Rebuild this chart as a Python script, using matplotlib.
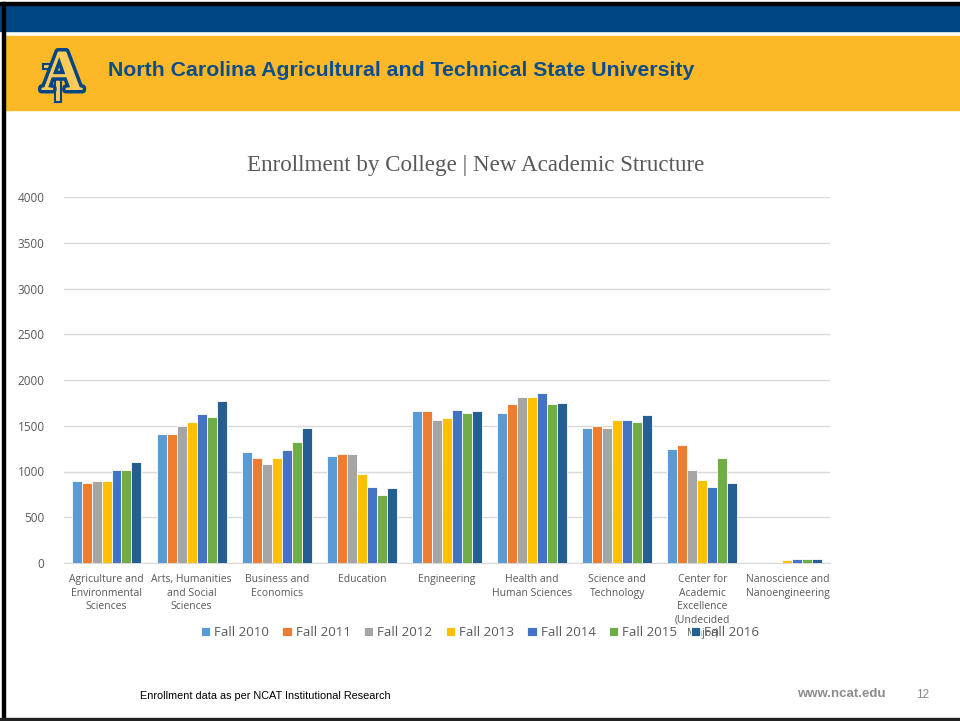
import matplotlib.pyplot as plt
import matplotlib.patheffects as pe
from matplotlib.patches import Rectangle
import numpy as np

# data
colleges = ["Agriculture and\nEnvironmental\nSciences",
            "Arts, Humanities\nand Social\nSciences",
            "Business and\nEconomics",
            "Education",
            "Engineering",
            "Health and\nHuman Sciences",
            "Science and\nTechnology",
            "Center for\nAcademic\nExcellence\n(Undecided\nMajor)",
            "Nanoscience and\nNanoengineering"]
terms = ["Fall 2010", "Fall 2011", "Fall 2012", "Fall 2013",
         "Fall 2014", "Fall 2015", "Fall 2016"]
fall2010 = [894, 1407, 1216, 1172, 1656, 1641, 1480, 1245, 0]
fall2011 = [879, 1407, 1143, 1187, 1656, 1733, 1494, 1289, 11]
fall2012 = [894, 1498, 1084, 1187, 1568, 1817, 1480, 1011, 7]
fall2013 = [894, 1538, 1143, 978, 1582, 1817, 1568, 908, 29]
fall2014 = [1011, 1626, 1231, 835, 1670, 1861, 1568, 835, 44]
fall2015 = [1011, 1597, 1319, 747, 1641, 1733, 1538, 1143, 44]
fall2016 = [1099, 1773, 1480, 821, 1656, 1747, 1615, 879, 44]
series = [fall2010, fall2011, fall2012, fall2013, fall2014, fall2015, fall2016]
colors = ["#5B9BD5", "#ED7D31", "#A5A5A5", "#FFC000", "#4472C4", "#70AD47", "#255E91"]

plt.rcParams['font.family'] = ['Open Sans', 'DejaVu Sans']

fig = plt.figure(figsize=(9.6, 7.21), dpi=100)

# slide background (pixel coordinates)
bg = fig.add_axes([0, 0, 1, 1], zorder=-1)
bg.set_xlim(0, 960)
bg.set_ylim(721, 0)
bg.axis('off')
bg.add_patch(Rectangle((0, 0), 960, 721, color='white'))
bg.add_patch(Rectangle((0, 3), 960, 28, color='#004684'))
bg.add_patch(Rectangle((0, 2), 960, 3, color='black'))
bg.add_patch(Rectangle((5, 36), 955, 74, color='#FDB827'))
bg.add_patch(Rectangle((2, 2), 3, 719, color='black'))
bg.add_patch(Rectangle((0, 718), 960, 3, color='#222222'))

# logo: big A with a T drawn through it
logo_fx = [pe.withStroke(linewidth=5, foreground='#004684')]
bg.text(62, 76, "A", fontsize=42, fontweight='bold', color='#FDCB5A',
        family='Liberation Serif', ha='center', va='center', path_effects=logo_fx)
bg.add_patch(Rectangle((43, 64), 30, 5, facecolor='#FDCB5A', edgecolor='#004684', lw=1.5))
bg.add_patch(Rectangle((55, 64), 6, 38, facecolor='#FDCB5A', edgecolor='#004684', lw=1.5))

bg.text(108, 70, "North Carolina Agricultural and Technical State University",
        fontsize=15.3, fontweight='bold', color='#0A4D8C', family='Liberation Sans',
        ha='left', va='center')

bg.text(476, 166, "Enrollment by College | New Academic Structure",
        fontsize=16.6, color='#595959', family='Liberation Serif',
        ha='center', va='center')

bg.text(140, 696, "Enrollment data as per NCAT Institutional Research",
        fontsize=7.8, color='black', family='Liberation Sans', ha='left', va='center')
bg.text(797, 694, "www.ncat.edu", fontsize=9.5, fontweight='bold', color='#8C8C8C',
        family='Liberation Sans', ha='left', va='center')
bg.text(916, 695, "12", fontsize=8.5, color='#8C8C8C', family='Liberation Sans',
        ha='left', va='center')

# chart
ax = fig.add_axes([64 / 960, 158 / 721, 766 / 960, 366 / 721])
x = np.arange(len(colleges))
w = 0.117
for i, (vals, c, lab) in enumerate(zip(series, colors, terms)):
    ax.bar(x + (i - 3) * w, vals, width=w, color=c, edgecolor='white',
           linewidth=0.6, label=lab, zorder=3)

ax.set_xlim(-0.5, len(colleges) - 0.5)
ax.set_ylim(0, 4000)
ax.set_yticks(np.arange(0, 4001, 500))
ax.yaxis.grid(True, color='#D9D9D9', linewidth=1)
ax.set_axisbelow(True)
for s in ['top', 'right', 'left']:
    ax.spines[s].set_visible(False)
ax.spines['bottom'].set_color('#D9D9D9')
ax.tick_params(length=0)
ax.tick_params(axis='y', labelsize=8.5, colors='#595959', pad=14)
ax.set_xticks(x)
ax.set_xticklabels(colleges, fontsize=7.5, color='#595959', linespacing=1.3)
ax.tick_params(axis='x', pad=8)

ax.legend(loc='upper center', bbox_to_anchor=(0.543, -0.14), ncol=7,
          frameon=False, fontsize=9.6, handlelength=0.7, handleheight=0.7,
          handletextpad=0.3, columnspacing=1.0, labelcolor='#595959')

fig.savefig("out.png", dpi=100)
